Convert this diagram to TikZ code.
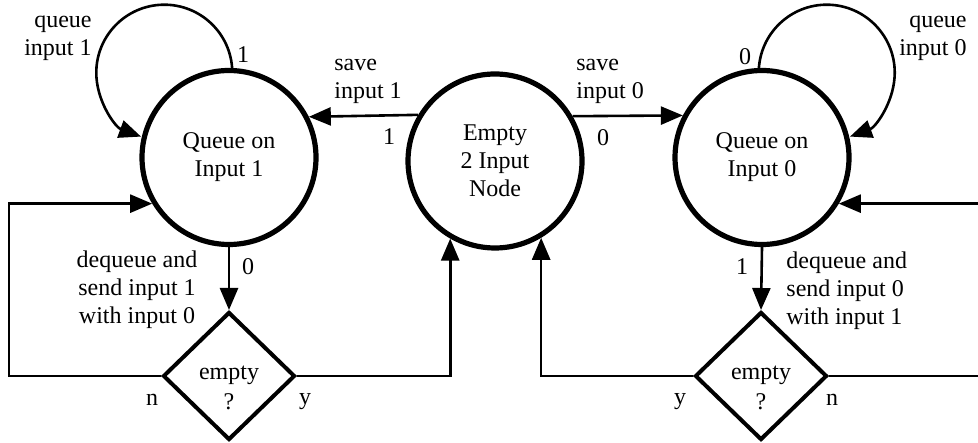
\documentclass[tikz,border=0pt]{standalone}
\usepackage{fontspec}
\setmainfont{Liberation Serif}
\usetikzlibrary{arrows.meta,shapes.geometric,calc}
\begin{document}
\begin{tikzpicture}[x=0.5pt,y=0.5pt,
  every node/.style={font=\fontsize{12}{14}\selectfont, inner sep=0pt},
  qstate/.style={circle, draw, line width=2.6pt, minimum size=87pt, align=center},
  tbox/.style={diamond, draw, line width=2pt, minimum width=66pt, minimum height=64pt, aspect=1},
  arr/.style={line width=1.3pt, -{Triangle[length=11pt,width=9pt]}},
  ln/.style={line width=1.3pt},
  dtext/.style={align=center, font=\fontsize{12}{15}\selectfont}]
\useasboundingbox (0,0) rectangle (978,443);
% states
\node[qstate] (q1) at (229,285.5) {Queue on\\Input 1};
\node[qstate] (mid) at (495,282) {Empty\\2 Input\\Node};
\node[qstate] (q0) at (762,285.5) {Queue on\\Input 0};
% tests
\node[tbox] (d1) at (229,67) {};
\node[tbox] (d0) at (761,67) {};
\node[dtext] (d1t) at (229,55) {empty\\?};
\node[dtext] (d0t) at (761,55) {empty\\?};
% side coordinates
\coordinate (lx) at (9,0);
\coordinate (rx) at (978,0);
% connectors
\draw[arr] (mid.149.6) -- (q1.27.7);
\draw[arr] (mid.30.4) -- (q0.152.3);
\draw[arr] (q1.88) arc[start angle=4,end angle=250,radius=34pt];
\draw[arr] (q0.92) arc[start angle=176,end angle=-70,radius=34pt];
\draw[arr] (q1.south) -- (d1.north);
\draw[arr] (q0.south) -- (d0.north);
\draw[arr] (d1.west) -- (d1.west -| lx) |- (q1.211.5);
\draw[arr] (d1.east) -| (mid.240.4);
\draw[arr] (d0.west) -| (mid.301);
\draw[ln] (d0.east) -- (d0.east -| rx);
\draw[arr] (q0.-31 -| rx) -- (q0.-31);
% labels
\node (l1) at (243,388) {1};
\node[align=right, anchor=east] (lq1) at (92,405) {queue\\input 1};
\node (l0) at (745,386) {0};
\node[align=right, anchor=east] (lq0) at (967,405) {queue\\input 0};
\node[align=left, anchor=west] (ls1) at (334,362) {save\\input 1};
\node (l11) at (389,306) {1};
\node[align=left, anchor=west] (ls0) at (576,362) {save\\input 0};
\node (l00) at (603,305) {0};
\node (l10) at (248,176) {0};
\node (l01) at (742,176) {1};
\node[align=center] (dq1) at (137,153) {dequeue and\\send input 1\\with input 0};
\node[align=left, anchor=west] (dq0) at (786,152) {dequeue and\\send input 0\\with input 1};
\node (n1) at (152,43) {n};
\node (y1) at (305,41) {y};
\node (y0) at (680,41) {y};
\node (n0) at (832,43) {n};
\end{tikzpicture}
\end{document}
